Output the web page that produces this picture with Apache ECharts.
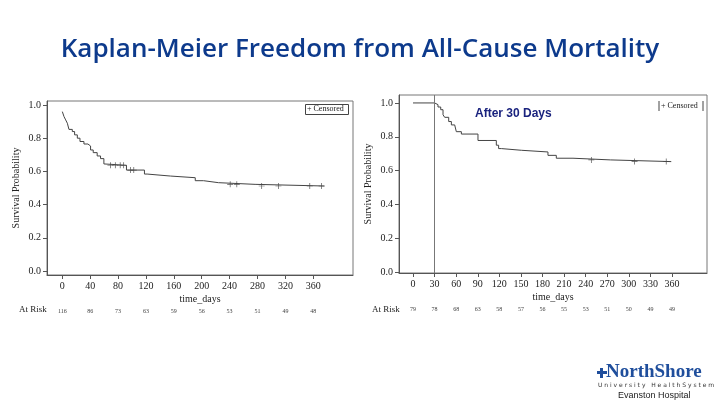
<!DOCTYPE html>
<html>
<head>
<meta charset="utf-8">
<script src="https://cdn.jsdelivr.net/npm/echarts@6/dist/echarts.min.js"></script>
<style>
  html, body { margin: 0; padding: 0; background: #fff; }
  #chart { width: 720px; height: 405px; }
</style>
</head>
<body>
<div id="chart"></div>
<script>
// 左图：全部随访 KM 曲线 (时间, 生存概率)
const allDays = [0, 2.4, 4.8, 7.2, 9.5, 14.3, 17.6, 21.5, 25.3, 31, 36.7, 40.5, 44.3, 50, 54.8, 59.6, 62, 92, 117.8, 121.6, 155, 190.7, 202.6, 224, 276.5, 376];
const allSurv = [0.96, 0.93, 0.91, 0.89, 0.853, 0.84, 0.82, 0.80, 0.78, 0.765, 0.753, 0.729, 0.713, 0.693, 0.677, 0.645, 0.637, 0.608, 0.584, 0.572, 0.562, 0.544, 0.532, 0.522, 0.512, 0.512];
const allCensored = [69, 76, 83, 88, 97.7, 102.5, 240.8, 250.3, 286, 310, 355, 372];
const allTicks = [0, 40, 80, 120, 160, 200, 240, 280, 320, 360];
const allAtRisk = [116, 86, 73, 63, 59, 56, 53, 51, 49, 48];

// 右图：30 天以后
const after30Days = [0, 30, 34.7, 38.5, 41.7, 44, 49.6, 53.3, 57.9, 60.2, 67.2, 90.3, 115.8, 119, 122.8, 150.6, 187.6, 199.2, 222.4, 274.7, 359];
const after30Surv = [1.0, 0.99, 0.976, 0.96, 0.93, 0.915, 0.89, 0.87, 0.865, 0.83, 0.816, 0.778, 0.75, 0.73, 0.72, 0.71, 0.69, 0.673, 0.663, 0.653, 0.653];
const after30Censored = [247.9, 308, 352];
const after30Ticks = [0, 30, 60, 90, 120, 150, 180, 210, 240, 270, 300, 330, 360];
const after30AtRisk = [79, 78, 68, 63, 58, 57, 56, 55, 53, 51, 50, 49, 49];

const probTicks = [0, 0.2, 0.4, 0.6, 0.8, 1.0];

// 在某个时间点取曲线的值（删失标记放在曲线上）
const survAt = (days, surv, t) => {
    let v = surv[0];
    for (let i = 0; i < days.length; i++) if (days[i] <= t) v = surv[i];
    return v;
};

const serif = 'Liberation Serif';
const plusSymbol = 'path://M4.4,0h1.2v4.4h4.4v1.2h-4.4v4.4h-1.2v-4.4h-4.4v-1.2h4.4z';

const makeXAxes = (gridIndex, min, max, ticks, atRisk) => [
    {
        type: 'value', gridIndex, min, max,
        splitLine: { show: false },
        axisLine: { onZero: false, lineStyle: { color: '#555' } },
        axisTick: { customValues: ticks, length: 4, lineStyle: { color: '#555' } },
        axisLabel: { customValues: ticks, fontFamily: serif, fontSize: 10, color: '#222', margin: 6 },
        name: 'time_days', nameLocation: 'middle', nameGap: 19,
        nameTextStyle: { fontFamily: serif, fontSize: 10, color: '#222' }
    },
    {
        // 风险人数行
        type: 'value', gridIndex, min, max, position: 'bottom', offset: 27,
        axisLine: { show: false, onZero: false }, axisTick: { show: false }, splitLine: { show: false },
        axisLabel: {
            customValues: ticks, fontFamily: serif, fontSize: 6, color: '#444', margin: 6,
            formatter: (v) => atRisk[ticks.indexOf(v)]
        }
    }
];

const makeYAxis = (gridIndex, min, max) => ({
    type: 'value', gridIndex, min, max,
    splitLine: { show: false },
    axisLine: { show: true, onZero: false, lineStyle: { color: '#555' } },
    axisTick: { show: true, customValues: probTicks, length: 4, lineStyle: { color: '#555' } },
    axisLabel: { customValues: probTicks, fontFamily: serif, fontSize: 10, color: '#222', margin: 6, formatter: (v) => v.toFixed(1) },
    name: 'Survival Probability', nameLocation: 'middle', nameGap: 26,
    nameTextStyle: { fontFamily: serif, fontSize: 10, color: '#222' }
});

const chart = echarts.init(document.getElementById('chart'), null, { renderer: 'canvas' });

chart.setOption({
    backgroundColor: '#fff',
    animation: false,
    title: {
        text: 'Kaplan-Meier Freedom from All-Cause Mortality',
        left: 'center', top: 32,
        textStyle: { fontFamily: 'Open Sans', fontWeight: 600, fontSize: 26, color: '#0D3A8C' }
    },
    grid: [
        { left: 47, top: 101, width: 306, height: 174, show: true, borderColor: '#777', borderWidth: 1 },
        { left: 399, top: 95, width: 308, height: 178, show: true, borderColor: '#777', borderWidth: 1 }
    ],
    xAxis: [
        ...makeXAxes(0, -22, 417, allTicks, allAtRisk),
        ...makeXAxes(1, -19.5, 408.7, after30Ticks, after30AtRisk)
    ],
    yAxis: [makeYAxis(0, -0.024, 1.024), makeYAxis(1, -0.006, 1.047)],
    series: [
        {
            type: 'line', xAxisIndex: 0, yAxisIndex: 0, step: 'end', symbol: 'none',
            lineStyle: { color: '#444', width: 1 },
            data: allDays.map((d, i) => [d, allSurv[i]])
        },
        {
            type: 'scatter', xAxisIndex: 0, yAxisIndex: 0, symbol: plusSymbol, symbolSize: 6,
            itemStyle: { color: '#333' },
            data: allCensored.map((d) => [d, survAt(allDays, allSurv, d)])
        },
        {
            type: 'line', xAxisIndex: 2, yAxisIndex: 1, step: 'end', symbol: 'none',
            lineStyle: { color: '#444', width: 1 },
            data: after30Days.map((d, i) => [d, after30Surv[i]]),
            markLine: {
                silent: true, symbol: 'none', label: { show: false },
                lineStyle: { color: '#777', type: 'solid', width: 1 },
                data: [{ xAxis: 30 }]
            }
        },
        {
            type: 'scatter', xAxisIndex: 2, yAxisIndex: 1, symbol: plusSymbol, symbolSize: 6,
            itemStyle: { color: '#333' },
            data: after30Censored.map((d) => [d, survAt(after30Days, after30Surv, d)])
        }
    ],
    graphic: [
        // 图例框
        { type: 'rect', left: 305, top: 104, shape: { width: 43, height: 10 }, style: { fill: '#fff', stroke: '#444', lineWidth: 1 } },
        { type: 'text', left: 307, top: 105, style: { text: '+ Censored', font: '8px "Liberation Serif"', fill: '#222' } },
        { type: 'line', shape: { x1: 659, y1: 101, x2: 659, y2: 111 }, style: { stroke: '#444', lineWidth: 1 } },
        { type: 'line', shape: { x1: 703, y1: 101, x2: 703, y2: 111 }, style: { stroke: '#444', lineWidth: 1 } },
        { type: 'text', left: 661, top: 102, style: { text: '+ Censored', font: '8px "Liberation Serif"', fill: '#222' } },
        { type: 'text', left: 475, top: 108, style: { text: 'After 30 Days', font: 'bold 12px "Liberation Sans"', fill: '#1A237E' } },
        { type: 'text', left: 19, top: 305, style: { text: 'At Risk', font: '9px "Liberation Serif"', fill: '#222' } },
        { type: 'text', left: 372, top: 305, style: { text: 'At Risk', font: '9px "Liberation Serif"', fill: '#222' } },
        // 医院标志
        { type: 'rect', left: 597, top: 371, shape: { width: 10, height: 3 }, style: { fill: '#1F4E9C' } },
        { type: 'rect', left: 600, top: 368, shape: { width: 3, height: 10 }, style: { fill: '#1F4E9C' } },
        { type: 'text', left: 606, top: 363, style: { text: 'NorthShore', font: 'bold 19px "Liberation Serif"', fill: '#1F4E9C' } },
        { type: 'text', left: 598, top: 382, style: { text: 'U n i v e r s i t y   H e a l t h S y s t e m', font: '6px "DejaVu Sans"', fill: '#333' } },
        { type: 'text', left: 618, top: 391, style: { text: 'Evanston Hospital', font: '9px "Liberation Sans"', fill: '#222' } }
    ]
});
</script>
</body>
</html>
